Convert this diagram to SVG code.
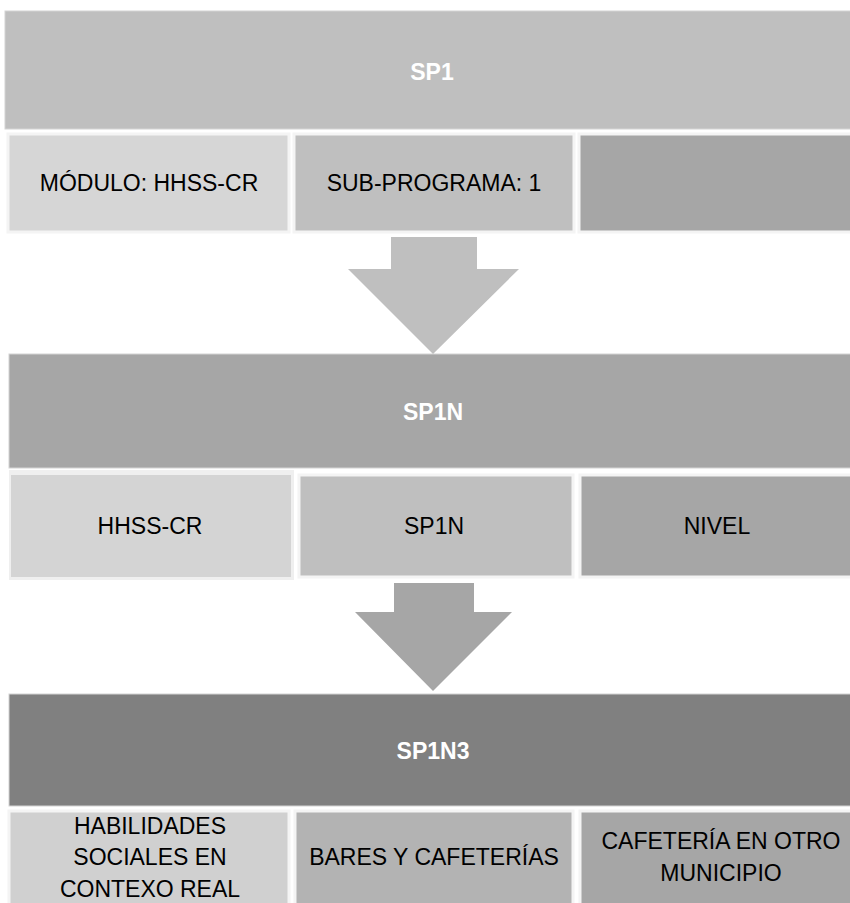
<svg xmlns="http://www.w3.org/2000/svg" width="850" height="903" viewBox="0 0 850 903">
<style>
.band{stroke:#d4d4d4;stroke-width:1}
.cell{stroke:#f4f4f4;stroke-width:3}
.title{font-family:"Liberation Sans",Arial,sans-serif;font-weight:bold;font-size:23px;fill:#ffffff;text-anchor:middle}
.lbl{font-family:"Liberation Sans",Arial,sans-serif;font-size:23px;fill:#000000;text-anchor:middle}
</style>
<rect width="850" height="903" fill="#ffffff"/>
<g id="sp1">
<rect class="band" x="5" y="11" width="846" height="118" fill="#bfbfbf"/>
<text class="title" x="432" y="80">SP1</text>
</g>
<g id="sp1-modulo">
<rect class="cell" x="8" y="134" width="281" height="98" fill="#d6d6d6"/>
<text class="lbl" x="149" y="191">MÓDULO: HHSS-CR</text>
</g>
<g id="sp1-subprograma">
<rect class="cell" x="294" y="134" width="280" height="98" fill="#bfbfbf"/>
<text class="lbl" x="434" y="191">SUB-PROGRAMA: 1</text>
</g>
<g id="sp1-empty">
<rect class="cell" x="579" y="134" width="273" height="98" fill="#a6a6a6"/>
</g>
<g id="sp1n">
<rect class="band" x="9" y="354" width="842" height="114" fill="#a6a6a6"/>
<text class="title" x="433" y="420">SP1N</text>
</g>
<g id="sp1n-hhss">
<rect x="9" y="470" width="285" height="110" fill="#efefef"/>
<rect x="11" y="475" width="280" height="102" fill="#d4d4d4"/>
<text class="lbl" x="150" y="534">HHSS-CR</text>
</g>
<g id="sp1n-sp1n">
<rect class="cell" x="299" y="475" width="274" height="102" fill="#bfbfbf"/>
<text class="lbl" x="434" y="534">SP1N</text>
</g>
<g id="sp1n-nivel">
<rect class="cell" x="580" y="475" width="272" height="102" fill="#a6a6a6"/>
<text class="lbl" x="717" y="534">NIVEL</text>
</g>
<g id="sp1n3">
<rect class="band" x="9" y="694" width="842" height="112" fill="#808080"/>
<text class="title" x="433" y="759">SP1N3</text>
</g>
<g id="sp1n3-habilidades">
<rect class="cell" x="9" y="811" width="280" height="95" fill="#d0d0d0"/>
<text class="lbl" x="150" y="834">HABILIDADES</text>
<text class="lbl" x="150" y="865">SOCIALES EN</text>
<text class="lbl" x="150" y="897">CONTEXO REAL</text>
</g>
<g id="sp1n3-bares">
<rect class="cell" x="295" y="811" width="278" height="95" fill="#b3b3b3"/>
<text class="lbl" x="434" y="865">BARES Y CAFETERÍAS</text>
</g>
<g id="sp1n3-cafeteria">
<rect class="cell" x="580" y="811" width="272" height="95" fill="#a6a6a6"/>
<text class="lbl" x="721" y="849">CAFETERÍA EN OTRO</text>
<text class="lbl" x="721" y="881">MUNICIPIO</text>
</g>
<g id="connectors">
<polygon points="391,237 477,237 477,269 519,269 433,354 348,269 391,269" fill="#bfbfbf"/>
<polygon points="394,583 474,583 474,612 512,612 433,691 355,612 394,612" fill="#a6a6a6"/>
</g>
</svg>
